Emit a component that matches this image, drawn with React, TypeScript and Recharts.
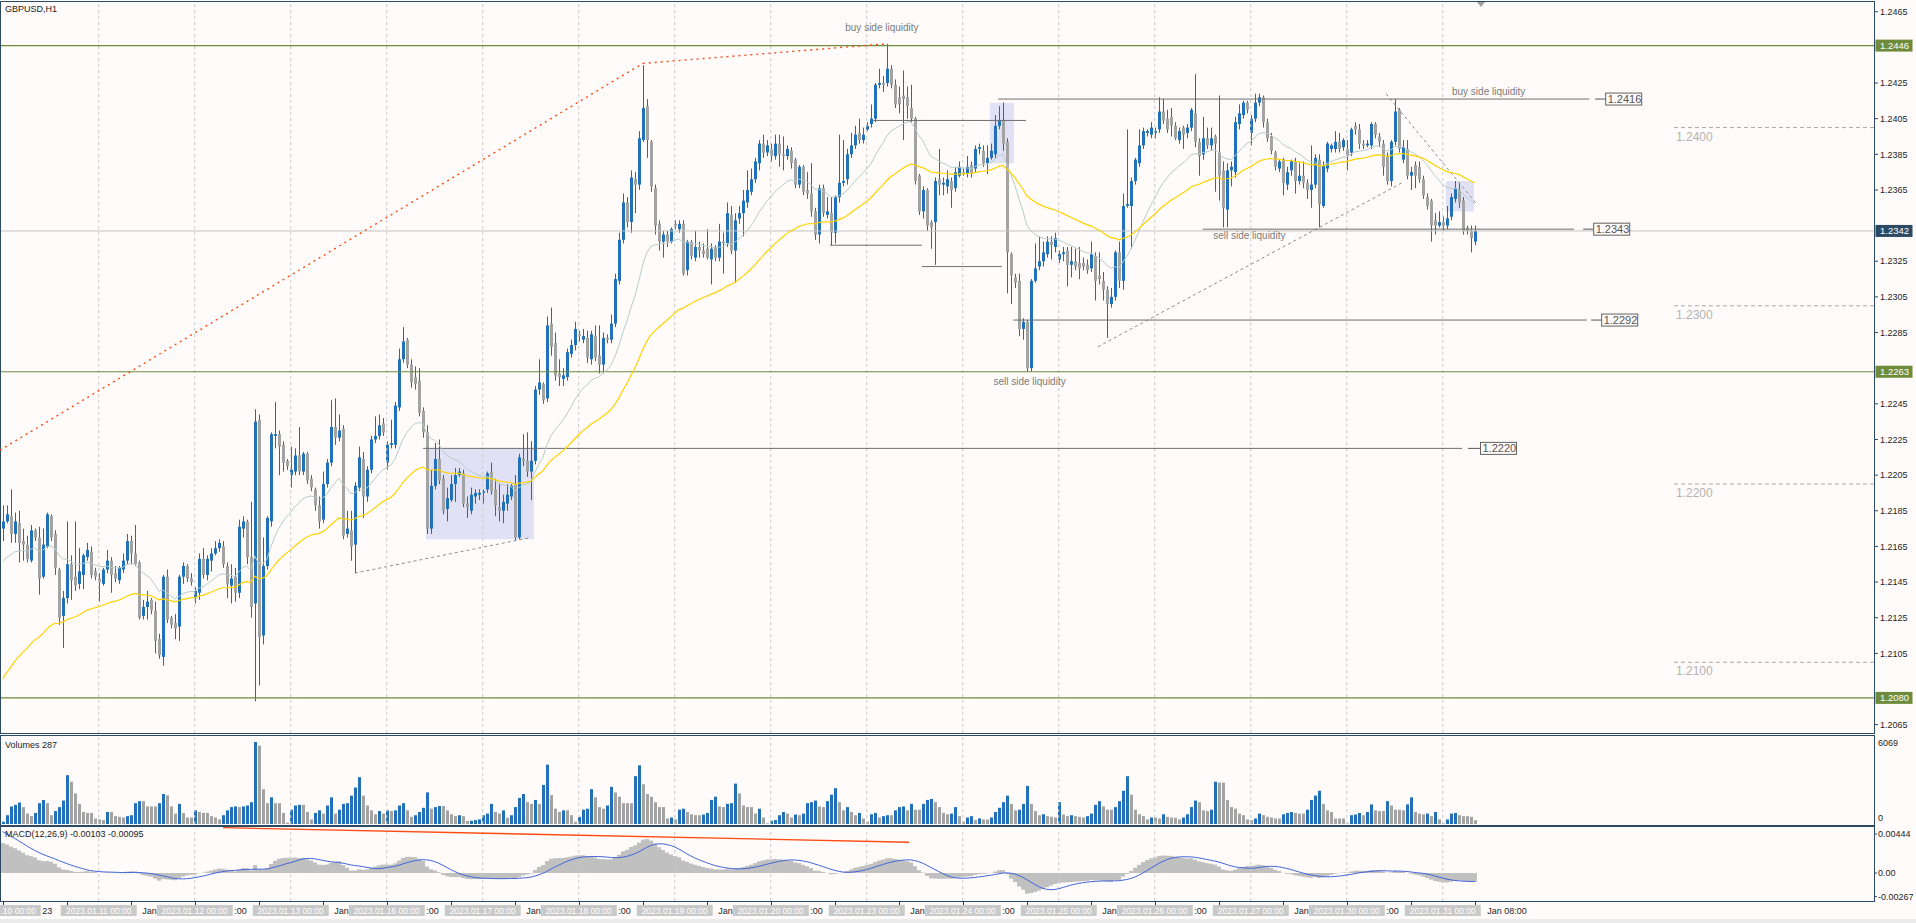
import React from 'react';
import { ComposedChart, Bar, Line, XAxis, YAxis, ReferenceLine, ReferenceArea, ReferenceDot } from 'recharts';

// ---------------- DATA ----------------
const tradingDays = [10, 11, 12, 13, 16, 17, 18, 19, 20, 23, 24, 25, 26, 27, 30, 31];

// hourly candles in pips: [open, high, low, close]
const jan10 = [
  [12175,12188,12168,12179],[12179,12188,12178,12183],[12182,12197,12167,12172],[12172,12184,12167,12179],
  [12178,12185,12156,12167],[12168,12175,12157,12166],[12166,12171,12156,12158],[12157,12177,12156,12174],
  [12174,12175,12168,12170],[12170,12176,12138,12147],[12148,12175,12147,12166],[12165,12184,12164,12183],
  [12182,12183,12168,12170],[12172,12174,12149,12153],[12152,12153,12121,12125],[12126,12140,12108,12136],
  [12136,12179,12133,12155],[12155,12160,12135,12146],[12148,12179,12140,12143],[12144,12164,12141,12151],
  [12149,12161,12141,12160],[12159,12167,12157,12163],[12162,12165,12147,12149],[12151,12153,12146,12148],
];
const jan11 = [
  [12147,12150,12134,12145],[12144,12153,12143,12152],[12152,12163,12150,12157],[12157,12159,12139,12149],
  [12150,12154,12145,12147],[12146,12154,12144,12153],[12152,12161,12150,12157],[12157,12172,12155,12168],
  [12168,12171,12155,12161],[12161,12177,12154,12155],[12156,12157,12124,12125],[12126,12135,12124,12131],
  [12131,12140,12124,12134],[12135,12136,12127,12129],[12129,12134,12105,12112],[12113,12116,12102,12104],
  [12103,12149,12098,12148],[12148,12152,12122,12124],[12125,12126,12119,12121],[12122,12127,12113,12119],
  [12120,12149,12112,12148],[12148,12156,12144,12154],[12154,12155,12145,12147],[12147,12150,12143,12145],
];
const jan12 = [
  [12136,12142,12133,12140],[12139,12161,12135,12158],[12158,12164,12147,12149],[12149,12160,12146,12158],
  [12157,12164,12151,12161],[12161,12168,12160,12164],[12164,12169,12162,12167],[12165,12168,12153,12155],
  [12154,12156,12136,12144],[12143,12155,12133,12147],[12148,12153,12134,12139],[12139,12180,12136,12176],
  [12175,12182,12170,12179],[12179,12180,12155,12159],[12159,12190,12125,12131],[12133,12242,12078,12235],
  [12236,12239,12087,12114],[12115,12170,12110,12154],[12154,12182,12152,12181],[12179,12229,12176,12228],
  [12227,12246,12220,12228],[12228,12230,12205,12221],[12222,12224,12207,12212],[12213,12214,12208,12210],
];
const jan13 = [
  [12205,12221,12198,12208],[12207,12220,12205,12216],[12216,12232,12205,12207],[12207,12218,12205,12217],
  [12217,12218,12200,12202],[12203,12205,12196,12198],[12197,12198,12185,12188],[12188,12193,12175,12179],
  [12180,12207,12178,12200],[12200,12214,12198,12212],[12212,12247,12210,12232],[12232,12248,12222,12226],
  [12226,12239,12224,12230],[12231,12233,12169,12171],[12172,12185,12170,12175],[12174,12185,12157,12165],
  [12166,12201,12150,12199],[12198,12221,12196,12215],[12214,12218,12181,12193],[12193,12210,12190,12208],
  [12208,12227,12206,12225],[12225,12238,12223,12227],[12227,12239,12225,12233],[12234,12237,12227,12229],
];
const jan16 = [
  [12212,12224,12208,12222],[12222,12236,12220,12223],[12222,12246,12220,12244],[12243,12276,12241,12270],
  [12270,12288,12268,12280],[12281,12282,12265,12267],[12267,12270,12254,12257],[12260,12266,12253,12256],
  [12258,12265,12238,12240],[12241,12243,12226,12229],[12229,12233,12172,12175],[12175,12208,12172,12199],
  [12199,12223,12197,12214],[12214,12225,12200,12202],[12203,12205,12183,12185],[12186,12198,12179,12192],
  [12191,12205,12190,12200],[12200,12209,12190,12205],[12205,12209,12204,12207],[12206,12208,12187,12189],
  [12189,12193,12181,12187],[12185,12198,12183,12194],[12193,12197,12189,12195],[12194,12197,12191,12195],
];
const jan17 = [
  [12195,12197,12189,12196],[12197,12207,12195,12206],[12207,12212,12194,12196],[12197,12203,12182,12188],
  [12187,12200,12179,12185],[12185,12194,12178,12190],[12189,12200,12185,12194],[12193,12200,12191,12199],
  [12200,12205,12168,12170],[12170,12217,12169,12215],[12214,12228,12210,12213],[12213,12229,12204,12207],
  [12207,12224,12191,12213],[12213,12255,12211,12253],[12253,12270,12250,12257],[12256,12257,12245,12247],
  [12248,12294,12246,12289],[12290,12299,12272,12277],[12279,12285,12258,12261],[12262,12270,12255,12260],
  [12259,12265,12255,12261],[12260,12276,12258,12274],[12273,12281,12271,12278],[12278,12291,12275,12287],
];
const jan18 = [
  [12284,12286,12280,12283],[12281,12287,12279,12283],[12282,12286,12268,12271],[12270,12286,12267,12284],
  [12283,12289,12269,12271],[12272,12289,12262,12267],[12267,12285,12262,12282],[12282,12284,12279,12281],
  [12281,12295,12279,12290],[12290,12318,12288,12315],[12314,12341,12312,12337],[12337,12363,12335,12358],
  [12358,12361,12344,12347],[12347,12376,12341,12372],[12371,12375,12352,12368],[12368,12398,12365,12394],
  [12393,12435,12392,12411],[12412,12416,12383,12393],[12392,12393,12364,12367],[12366,12368,12340,12345],
  [12346,12348,12331,12336],[12336,12342,12327,12340],[12340,12342,12333,12336],[12336,12344,12335,12343],
];
const jan19 = [
  [12346,12348,12343,12345],[12343,12348,12341,12346],[12346,12348,12317,12318],[12320,12337,12317,12336],
  [12336,12337,12326,12328],[12327,12342,12325,12333],[12333,12336,12327,12331],[12331,12335,12327,12329],
  [12332,12343,12326,12327],[12326,12335,12312,12332],[12333,12334,12325,12327],[12327,12346,12325,12336],
  [12336,12341,12318,12335],[12335,12358,12333,12352],[12351,12356,12329,12331],[12331,12352,12313,12348],
  [12349,12356,12346,12352],[12352,12365,12339,12359],[12358,12376,12355,12365],[12364,12377,12362,12371],
  [12371,12383,12369,12381],[12380,12393,12376,12391],[12391,12396,12383,12386],[12386,12393,12384,12390],
];
const jan20 = [
  [12388,12391,12381,12384],[12384,12396,12382,12391],[12391,12396,12378,12385],[12385,12395,12376,12384],
  [12384,12390,12382,12388],[12387,12389,12377,12380],[12382,12383,12366,12368],[12368,12379,12366,12378],
  [12378,12379,12362,12364],[12365,12375,12360,12363],[12363,12380,12350,12353],[12353,12355,12337,12340],
  [12340,12368,12335,12366],[12366,12368,12350,12352],[12351,12361,12349,12353],[12352,12361,12334,12341],
  [12341,12362,12335,12361],[12361,12396,12358,12369],[12369,12393,12367,12370],[12371,12388,12368,12385],
  [12385,12397,12383,12390],[12390,12401,12388,12396],[12397,12405,12391,12393],[12393,12400,12391,12396],
];
const jan23 = [
  [12399,12403,12398,12401],[12402,12413,12400,12405],[12405,12425,12403,12424],[12424,12433,12422,12425],
  [12425,12429,12420,12424],[12425,12447,12423,12433],[12433,12435,12422,12424],[12424,12427,12411,12413],
  [12417,12423,12408,12413],[12418,12432,12393,12416],[12417,12423,12405,12412],[12411,12424,12403,12405],
  [12405,12406,12368,12370],[12373,12374,12351,12353],[12353,12367,12349,12365],[12365,12366,12342,12345],
  [12347,12348,12332,12344],[12347,12372,12323,12370],[12371,12388,12362,12368],[12368,12372,12362,12369],
  [12367,12376,12363,12371],[12370,12372,12355,12365],[12366,12378,12364,12375],[12373,12381,12372,12378],
];
const jan24 = [
  [12375,12377,12373,12374],[12374,12384,12372,12378],[12379,12381,12372,12374],[12377,12390,12375,12388],
  [12388,12391,12385,12389],[12387,12390,12378,12380],[12380,12390,12374,12383],[12383,12391,12382,12387],
  [12385,12407,12383,12401],[12401,12412,12399,12404],[12404,12414,12387,12391],[12392,12394,12307,12330],
  [12329,12330,12301,12317],[12316,12318,12310,12313],[12314,12318,12283,12287],[12287,12293,12281,12291],
  [12291,12292,12263,12265],[12265,12315,12263,12314],[12314,12335,12313,12321],[12322,12339,12320,12325],
  [12325,12336,12322,12330],[12329,12339,12327,12336],[12336,12339,12326,12334],[12333,12341,12330,12338],
];
const jan25 = [
  [12326,12331,12324,12329],[12329,12333,12325,12330],[12331,12333,12311,12323],[12323,12333,12316,12325],
  [12325,12332,12320,12322],[12324,12333,12315,12321],[12324,12327,12320,12322],[12323,12326,12318,12320],
  [12321,12336,12319,12329],[12328,12330,12303,12314],[12317,12330,12312,12315],[12314,12319,12303,12309],
  [12309,12311,12282,12301],[12301,12310,12299,12305],[12305,12331,12303,12330],[12330,12336,12310,12314],
  [12314,12363,12309,12356],[12356,12399,12355,12357],[12356,12372,12332,12370],[12370,12383,12368,12382],
  [12380,12399,12378,12390],[12390,12400,12388,12398],[12397,12399,12395,12398],[12396,12403,12394,12400],
];
const jan26 = [
  [12397,12400,12394,12398],[12399,12417,12397,12409],[12409,12416,12402,12404],[12405,12410,12397,12399],
  [12406,12411,12395,12401],[12401,12403,12393,12394],[12393,12400,12391,12398],[12400,12401,12388,12396],
  [12397,12402,12394,12400],[12400,12411,12398,12410],[12408,12430,12389,12392],[12392,12394,12373,12384],
  [12385,12406,12382,12394],[12394,12400,12388,12390],[12390,12400,12387,12394],[12395,12396,12364,12391],
  [12386,12418,12359,12373],[12376,12381,12344,12355],[12354,12380,12344,12376],[12376,12381,12367,12378],
  [12375,12406,12372,12403],[12402,12413,12399,12408],[12407,12415,12405,12414],[12414,12415,12408,12410],
];
const jan27 = [
  [12397,12407,12390,12405],[12405,12419,12403,12414],[12414,12419,12412,12417],[12417,12418,12400,12403],
  [12403,12405,12392,12394],[12395,12397,12385,12387],[12386,12387,12376,12378],[12377,12382,12375,12381],
  [12382,12383,12362,12369],[12368,12378,12365,12375],[12376,12382,12373,12381],[12381,12383,12363,12370],
  [12370,12380,12368,12373],[12373,12381,12366,12369],[12369,12371,12360,12365],[12365,12390,12355,12368],
  [12368,12385,12366,12383],[12382,12385,12344,12357],[12356,12381,12355,12379],[12377,12392,12375,12391],
  [12388,12391,12386,12390],[12388,12398,12386,12392],[12392,12397,12386,12388],[12389,12394,12387,12393],
];
const jan30 = [
  [12388,12393,12376,12384],[12386,12400,12384,12399],[12401,12403,12396,12399],[12399,12402,12388,12391],
  [12391,12393,12388,12390],[12390,12393,12389,12391],[12390,12403,12388,12402],[12402,12403,12394,12396],
  [12395,12397,12389,12392],[12391,12393,12373,12378],[12384,12386,12368,12370],[12370,12393,12367,12392],
  [12392,12416,12390,12409],[12410,12411,12386,12388],[12382,12393,12380,12389],[12388,12393,12371,12373],
  [12373,12378,12365,12375],[12379,12381,12366,12373],[12378,12381,12369,12371],[12371,12373,12360,12362],
  [12361,12363,12354,12356],[12359,12360,12336,12345],[12348,12352,12340,12345],[12345,12353,12344,12347],
];
const jan31 = [
  [12347,12350,12342,12345],[12345,12356,12343,12349],[12350,12363,12348,12361],[12360,12370,12358,12366],
  [12365,12369,12355,12358],[12359,12361,12340,12342],[12344,12345,12340,12342],[12342,12345,12330,12338],
  [12336,12345,12334,12342],
];
const ohlcByDay = [jan10, jan11, jan12, jan13, jan16, jan17, jan18, jan19, jan20, jan23, jan24, jan25, jan26, jan27, jan30, jan31];

// tick volumes per hour
const volJan10 = [170,650,1300,1420,1590,1250,770,580,820,1540,1780,1540,650,960,1250,1735,3615,3130,2265,1490,890,820,820,410];
const volJan11 = [340,290,890,890,580,530,480,580,650,1540,1690,1690,1300,1300,1300,1540,2220,2120,1300,770,1490,820,480,480];
const volJan12 = [1010,890,820,820,580,480,340,650,1010,1250,1300,1250,1300,1370,1615,6069,5800,2580,1540,1975,1540,1540,820,100];
const volJan13 = [1060,1370,1420,1420,890,340,820,1010,770,1370,1975,770,1060,1490,1540,2100,2700,3470,2100,1370,1010,720,960,770];
const volJan16 = [1010,960,1010,1370,1540,1010,530,650,890,1200,2340,1130,1250,1330,1330,1010,720,580,650,580,220,240,290,340];
const volJan17 = [650,770,1490,890,770,1010,460,650,1250,1930,2220,1615,1490,1780,1490,2890,4390,2140,1130,890,1010,1010,650,170];
const volJan18 = [530,1060,1130,2580,1975,1250,1130,1370,2750,2340,2020,1540,1540,1540,3540,4340,2940,2220,2020,1615,1250,1250,410,480];
const volJan19 = [340,1060,1130,890,720,650,650,700,820,1780,2020,1300,1250,1490,1540,2990,2265,1370,1250,1250,770,1130,480,50];
const volJan20 = [240,290,650,890,770,480,700,650,770,1540,1615,1735,1300,1250,1690,2170,2650,1615,1010,1250,890,650,820,410];
const volJan23 = [170,720,820,480,580,650,650,1010,1250,1300,1010,1490,1060,1060,1490,1780,1855,1615,1250,820,720,770,1250,580];
const volJan24 = [170,480,580,290,410,340,340,480,890,1200,1615,2100,1490,1010,1060,1490,2820,1490,960,650,720,580,530,480];
const volJan25 = [1615,700,580,650,580,530,480,580,770,1420,1690,1300,1060,1060,1250,1690,2460,3540,2170,1060,720,580,340,480];
const volJan26 = [480,410,720,530,480,460,340,480,720,1250,1735,1615,1010,960,1060,3130,3060,3060,1780,1250,1130,770,650,340];
const volJan27 = [290,410,770,650,530,480,410,410,720,820,890,820,770,770,1060,1780,2100,2460,1490,1010,890,410,410,410];
const volJan30 = [50,650,700,820,650,890,1450,1010,960,960,1690,1370,1060,1060,1010,1450,1975,890,770,720,770,580,890,340];
const volJan31 = [50,340,770,820,650,580,580,530,287];
const volumeByDay = [volJan10, volJan11, volJan12, volJan13, volJan16, volJan17, volJan18, volJan19, volJan20, volJan23, volJan24, volJan25, volJan26, volJan27, volJan30, volJan31];

// price scale labels (the ones hidden under the coloured price tags are left out)
const priceTicks = [1.2065,1.2105,1.2125,1.2145,1.2165,1.2185,1.2205,1.2225,1.2245,1.2285,1.2305,1.2325,1.2365,1.2385,1.2405,1.2425,1.2465];
const volumeTicks = [0, 6069];
const macdTicks = [-0.00267, 0, 0.00444];

const keyLevels = [1.2446, 1.2263, 1.2080];
const lastPrice = 1.2342;
const roundLevels = [1.24, 1.23, 1.22, 1.21];

const FAST_MA = 20;
const SLOW_MA = 50;
const fastSeed = 1.2154;
const slowSeed = 1.2087;
const ema12Seed = 1.2170;
const ema26Seed = 1.2134;
const priorMacd = [0.0055, 0.0054, 0.0052, 0.0050, 0.0048, 0.0046, 0.0044, 0.0041];

// drawn objects (bar index, price)
const liquidityLines = [
  { price: 1.2416, from: 248.8, to: 396.6, tFrom: 398.1, tTo: 400.6, tag: '1.2416' },
  { price: 1.2343, from: 300.0, to: 392.8, tFrom: 395.1, tTo: 397.6, tag: '1.2343' },
  { price: 1.2292, from: 252.6, to: 396.0, tFrom: 397.1, tTo: 399.6, tag: '1.2292' },
  { price: 1.2220, from: 105.1, to: 364.8, tFrom: 366.3, tTo: 369.3, tag: '1.2220' },
];
const swingLines = [
  { price: 1.2404, from: 217.6, to: 255.8 },
  { price: 1.2334, from: 206.8, to: 229.8 },
  { price: 1.2322, from: 229.8, to: 249.8 },
];
const redTrend = [
  [{ x: -0.7, y: 1.2219 }, { x: 160, y: 1.2436 }],
  [{ x: 160, y: 1.2436 }, { x: 221, y: 1.2447 }],
];
const grayTrends = [
  [{ x: 88, y: 1.2150 }, { x: 132, y: 1.2170 }],
  [{ x: 273.8, y: 1.2277 }, { x: 349.8, y: 1.2369 }],
  [{ x: 345.8, y: 1.2419 }, { x: 368.5, y: 1.2357 }],
];
const zones = [
  { x1: 105.8, x2: 132.8, y1: 1.2169, y2: 1.2220 },
  { x1: 246.8, x2: 252.8, y1: 1.2380, y2: 1.2414 },
  { x1: 360.8, x2: 367.8, y1: 1.2353, y2: 1.2370 },
];
const notes = [
  { x: 219.8, y: 1.24564, text: 'buy side liquidity', anchor: 'middle' },
  { x: 362.3, y: 1.24205, text: 'buy side liquidity', anchor: 'start' },
  { x: 302.6, y: 1.23392, text: 'sell side liquidity', anchor: 'start' },
  { x: 256.7, y: 1.22578, text: 'sell side liquidity', anchor: 'middle' },
];
const macdRedLine = [{ x: 55.1, y: 0.00516 }, { x: 226.6, y: 0.00350 }];

// ---------------- BUILD ----------------
const bars = ohlcByDay.flat();
const vols = volumeByDay.flat();
const closes = bars.map((b) => b[3] / 1e4);
function emaSeries(vals: number[], period: number, seed: number) {
  const k = 2 / (period + 1);
  let e = seed;
  return vals.map((v) => (e = e + (v - e) * k));
}
const maFast = emaSeries(closes, FAST_MA, fastSeed);
const maSlow = emaSeries(closes, SLOW_MA, slowSeed);
const e12 = emaSeries(closes, 12, ema12Seed);
const e26 = emaSeries(closes, 26, ema26Seed);
const macd = closes.map((_, i) => e12[i] - e26[i]);
const macdAll = [...priorMacd, ...macd];
const signal = macd.map((_, i) => {
  const w = macdAll.slice(i, i + 9);
  return w.reduce((a, b) => a + b, 0) / w.length;
});
const rows = bars.map(([o, h, l, c], i) => ({
  i,
  o: o / 1e4, h: h / 1e4, l: l / 1e4, c: c / 1e4,
  range: [l / 1e4, h / 1e4],
  fast: maFast[i],
  slow: maSlow[i],
  v: vols[i],
  vUp: i === 0 ? true : vols[i] > vols[i - 1],
  macd: macd[i],
  sig: signal[i],
}));

// ---------------- STYLE ----------------
const X_MIN = -0.425;
const X_MAX = 467.8;
const MACD_MIN = -0.003188;
const MACD_MAX = 0.005123;
const BG = '#fefbfa';
const FRAME = '#2c4a63';
const FONT = "'Liberation Sans', Arial, sans-serif";
const WICK = '#4d6363';
const UP = '#2271b8';
const DOWN = '#a3a3a3';
const GREEN = '#6e8b3a';
const GRID = '#c9c9c9';
const dayStarts = tradingDays.map((_, d) => d * 24).filter((x) => x > 0);

function Candle(props: any) {
  const { x, y, width, height, payload } = props;
  if (!payload || x == null || y == null) return null;
  const cx = Math.round(x + width / 2);
  const top = Math.min(y, y + height);
  const hh = Math.abs(height);
  const span = payload.h - payload.l || 1e-9;
  const yo = top + ((payload.h - payload.o) / span) * hh;
  const yc = top + ((payload.h - payload.c) / span) * hh;
  const bTop = Math.min(yo, yc);
  const bH = Math.max(1, Math.abs(yo - yc));
  return (
    <g>
      <rect x={cx} y={top} width={1} height={Math.max(1, hh)} fill={WICK} />
      <rect x={cx - 1} y={bTop} width={3} height={bH} fill={payload.c >= payload.o ? UP : DOWN} />
    </g>
  );
}
function VolBar(props: any) {
  const { x, y, width, height, payload } = props;
  if (!payload || x == null) return null;
  const cx = Math.round(x + width / 2);
  return <rect x={cx - 1} y={y} width={3} height={Math.max(0, height)} fill={payload.vUp ? UP : DOWN} />;
}
function HistBar(props: any) {
  const { x, y, width, height } = props;
  if (x == null || y == null) return null;
  const cx = Math.round(x + width / 2);
  return <rect x={cx - 2} y={Math.min(y, y + height)} width={4} height={Math.abs(height)} fill="#c0c0c0" />;
}

const gridLines = dayStarts.map((d) => (
  <ReferenceLine key={'g' + d} x={d} stroke={GRID} strokeDasharray="3 3" ifOverflow="visible" />
));

function axisBox(price: number, label: string, fill: string, key: string) {
  return (
    <ReferenceDot key={key} x={X_MAX} y={price} r={1} ifOverflow="visible"
      shape={(p: any) => (
        <g>
          <rect x={p.cx + 1.5} y={p.cy - 6} width={37} height={12} fill={fill} />
          <text x={p.cx + 6} y={p.cy + 3.5} fontSize={9.5} fill="#ffffff" fontFamily={FONT}>{label}</text>
        </g>
      )} />
  );
}

// time scale: MT labels every 16 bars, partly covered by the date tags of the day separators;
// only the parts that stay visible are drawn
const axisTicks: number[] = [];
for (let t = 0; t < rows.length; t += 16) axisTicks.push(t);
const lastTick = axisTicks[axisTicks.length - 1];
function visiblePart(t: number): { text: string; dx: number } | null {
  const hr = t % 24;
  if (t === 0) return { text: '23', dx: 39.5 };
  if (t === lastTick) return { text: `Jan ${String(hr).padStart(2, '0')}:00`, dx: 12.5 };
  if (t % 48 === 0) return { text: ':00', dx: 39.5 };
  if (t % 48 === 32) return { text: 'Jan', dx: 11.5 };
  return null;
}

export default function App() {
  return (
    <div style={{ position: 'absolute', left: 0, top: 0, width: 1916, height: 923, background: BG, overflow: 'hidden', fontFamily: FONT }}>
      {/* panel frames */}
      <div style={{ position: 'absolute', left: 0, top: 1, width: 1875, height: 733, boxSizing: 'border-box', border: `1px solid ${FRAME}` }} />
      <div style={{ position: 'absolute', left: 0, top: 735, width: 1875, height: 91, boxSizing: 'border-box', border: `1px solid ${FRAME}` }} />
      <div style={{ position: 'absolute', left: 0, top: 826, width: 1875, height: 76, boxSizing: 'border-box', border: `1px solid ${FRAME}` }} />
      <div style={{ position: 'absolute', left: 0, top: 919, width: 1916, height: 4, background: '#ececec' }} />
      <div style={{ position: 'absolute', left: 1477, top: 2, width: 0, height: 0, borderLeft: '4px solid transparent', borderRight: '4px solid transparent', borderTop: '5px solid #a0a0a0' }} />

      {/* main price panel */}
      <div style={{ position: 'absolute', left: 0, top: 0 }}>
        <ComposedChart width={1916} height={735} data={rows} margin={{ top: 3, right: 0, bottom: 2, left: 1 }}>
          <XAxis dataKey="i" type="number" domain={[X_MIN, X_MAX]} hide height={0} allowDataOverflow />
          <YAxis orientation="right" width={42} domain={[1.20603, 1.24699]} ticks={priceTicks} interval={0} allowDataOverflow
            tickFormatter={(v: number) => v.toFixed(4)} tick={{ fontSize: 9, fill: '#1e1e1e', fontFamily: FONT }}
            tickSize={4} tickMargin={2} axisLine={false} tickLine={{ stroke: FRAME }} />
          {gridLines}
          {zones.map((z, k) => (
            <ReferenceArea key={'z' + k} x1={z.x1} x2={z.x2} y1={z.y1} y2={z.y2} fill="#c3c8ef" fillOpacity={0.5} stroke="none" ifOverflow="visible" />
          ))}
          {roundLevels.map((lv) => (
            <ReferenceLine key={'rl' + lv} segment={[{ x: 417.8, y: lv }, { x: X_MAX, y: lv }]} stroke="#a8a8a8" strokeDasharray="4 3" ifOverflow="visible" />
          ))}
          {roundLevels.map((lv) => (
            <ReferenceDot key={'rt' + lv} x={417.8} y={lv} r={1} ifOverflow="visible"
              shape={(p: any) => <text x={p.cx + 2} y={p.cy + 13} fontSize={12} fill="#b3b3b3" fontFamily={FONT}>{lv.toFixed(4)}</text>} />
          ))}
          <ReferenceLine y={lastPrice} stroke="#c2c2c2" ifOverflow="visible" />
          {keyLevels.map((lv) => (
            <ReferenceLine key={'k' + lv} y={lv} stroke={GREEN} strokeWidth={1.2} ifOverflow="visible" />
          ))}
          {redTrend.map((s, k) => (
            <ReferenceLine key={'rd' + k} segment={s} stroke="#ff4a10" strokeWidth={1.4} strokeDasharray="2 4" ifOverflow="visible" />
          ))}
          {grayTrends.map((s, k) => (
            <ReferenceLine key={'gt' + k} segment={s} stroke="#8c8c8c" strokeDasharray="3 3" ifOverflow="visible" />
          ))}
          {swingLines.map((s, k) => (
            <ReferenceLine key={'sw' + k} segment={[{ x: s.from, y: s.price }, { x: s.to, y: s.price }]} stroke="#6e6e6e" ifOverflow="visible" />
          ))}
          {liquidityLines.map((s, k) => (
            <ReferenceLine key={'lq' + k} segment={[{ x: s.from, y: s.price }, { x: s.to, y: s.price }]} stroke="#6e6e6e" ifOverflow="visible" />
          ))}
          {liquidityLines.map((s, k) => (
            <ReferenceLine key={'lt' + k} segment={[{ x: s.tFrom, y: s.price }, { x: s.tTo, y: s.price }]} stroke="#555555" ifOverflow="visible" />
          ))}
          <Bar dataKey="range" barSize={3} shape={Candle} isAnimationActive={false} />
          <Line dataKey="fast" stroke="#b5cccb" strokeWidth={1} dot={false} activeDot={false} isAnimationActive={false} />
          <Line dataKey="slow" stroke="#ffd200" strokeWidth={1.2} dot={false} activeDot={false} isAnimationActive={false} />
          {liquidityLines.map((s, k) => (
            <ReferenceDot key={'lb' + k} x={s.tTo} y={s.price} r={1} ifOverflow="visible"
              shape={(p: any) => (
                <g>
                  <rect x={p.cx + 0.5} y={p.cy - 6} width={36} height={12} fill={BG} stroke="#606060" />
                  <text x={p.cx + 2.5} y={p.cy + 4} fontSize={11} fill="#555555" fontFamily={FONT}>{s.tag}</text>
                </g>
              )} />
          ))}
          {notes.map((n, k) => (
            <ReferenceDot key={'n' + k} x={n.x} y={n.y} r={1} ifOverflow="visible"
              shape={(p: any) => (
                <text x={p.cx} y={p.cy + 3.5} fontSize={10} fill="#7b7b7b" textAnchor={n.anchor} fontFamily={FONT}>{n.text}</text>
              )} />
          ))}
          {keyLevels.map((lv) => axisBox(lv, lv.toFixed(4), GREEN, 'kb' + lv))}
          {axisBox(lastPrice, lastPrice.toFixed(4), FRAME, 'last')}
        </ComposedChart>
      </div>
      <div style={{ position: 'absolute', left: 5, top: 4, fontSize: 9, color: '#222', fontFamily: FONT }}>GBPUSD,H1</div>

      {/* volumes panel */}
      <div style={{ position: 'absolute', left: 0, top: 736 }}>
        <ComposedChart width={1916} height={89} data={rows} margin={{ top: 1, right: 0, bottom: 1, left: 1 }}>
          <XAxis dataKey="i" type="number" domain={[X_MIN, X_MAX]} hide height={0} allowDataOverflow />
          <YAxis orientation="right" width={42} domain={[0, 6439]} ticks={volumeTicks} interval={0} allowDataOverflow
            tick={(p: any) => (
              <text x={p.x} y={p.y + (p.payload.value === 0 ? -3 : 4)} fontSize={9} fill="#1e1e1e" fontFamily={FONT}>{p.payload.value}</text>
            )}
            tickSize={4} tickMargin={0} axisLine={false} tickLine={false} />
          {gridLines}
          <Bar dataKey="v" barSize={3} shape={VolBar} isAnimationActive={false} />
        </ComposedChart>
      </div>
      <div style={{ position: 'absolute', left: 5, top: 740, fontSize: 9, color: '#222', fontFamily: FONT }}>Volumes 287</div>

      {/* MACD panel + time scale underneath */}
      <div style={{ position: 'absolute', left: 0, top: 827 }}>
        <ComposedChart width={1916} height={96} data={rows} margin={{ top: 1, right: 0, bottom: 22, left: 1 }}>
          <XAxis dataKey="i" type="number" domain={[X_MIN, X_MAX]} hide height={0} allowDataOverflow />
          <YAxis orientation="right" width={42} domain={[MACD_MIN, MACD_MAX]} ticks={macdTicks} interval={0} allowDataOverflow
            tickFormatter={(v: number) => (v === 0 ? '0.00' : v.toFixed(5))}
            tick={{ fontSize: 9, fill: '#1e1e1e', fontFamily: FONT }} tickSize={3} tickMargin={1} axisLine={false} tickLine={{ stroke: FRAME }} />
          {gridLines}
          <Bar dataKey="macd" barSize={4} shape={HistBar} isAnimationActive={false} />
          <Line dataKey="sig" stroke="#3f63de" strokeWidth={1} dot={false} activeDot={false} isAnimationActive={false} />
          <ReferenceLine segment={macdRedLine} stroke="#ff4a10" strokeWidth={1.3} ifOverflow="visible" />
          {axisTicks.map((t) => {
            const part = visiblePart(t);
            return (
              <ReferenceDot key={'at' + t} x={t} y={MACD_MIN} r={1} ifOverflow="visible"
                shape={(p: any) => (
                  <g>
                    <rect x={Math.round(p.cx)} y={p.cy} width={1} height={4} fill="#333" />
                    {part ? <text x={p.cx + part.dx} y={p.cy + 13} fontSize={9} fill="#1e1e1e" fontFamily={FONT}>{part.text}</text> : null}
                  </g>
                )} />
            );
          })}
          {tradingDays.map((d, k) => (
            <ReferenceDot key={'db' + k} x={k * 24} y={MACD_MIN} r={1} ifOverflow="visible"
              shape={(p: any) => (
                <g>
                  <rect x={p.cx - 38} y={p.cy + 4} width={76} height={11} fill="#c9c9c9" />
                  {k === 0 ? (
                    <text x={0.5} y={p.cy + 12.5} fontSize={8.5} fill="#ffffff" fontFamily={FONT}>{`.${d} 00:00`}</text>
                  ) : (
                    <text x={p.cx} y={p.cy + 12.5} fontSize={8.5} fill="#ffffff" textAnchor="middle" fontFamily={FONT}>{`2023.01.${String(d).padStart(2, '0')} 00:00`}</text>
                  )}
                </g>
              )} />
          ))}
        </ComposedChart>
      </div>
      <div style={{ position: 'absolute', left: 5, top: 829, fontSize: 9, color: '#222', fontFamily: FONT }}>MACD(12,26,9) -0.00103 -0.00095</div>
    </div>
  );
}
